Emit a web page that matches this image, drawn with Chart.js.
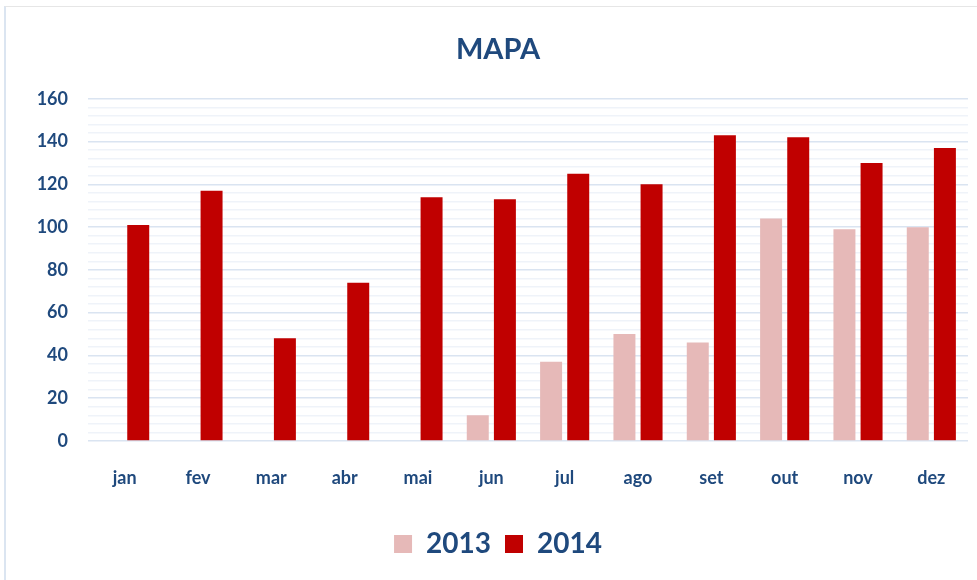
<!DOCTYPE html>
<html>
<head>
<meta charset="utf-8">
<script src="https://cdn.jsdelivr.net/npm/chart.js@4"></script>
<style>
  html, body { margin: 0; padding: 0; background: #fff; }
  #wrap { position: relative; width: 977px; height: 580px; overflow: hidden; }
  #frame {
    position: absolute; left: 4px; top: 6px; width: 990px; height: 590px;
    border-top: 1px solid #e6e6e6; border-left: 2px solid #dbe5f1;
  }
  #chart { position: absolute; left: 0; top: 0; }
</style>
</head>
<body>
<div id="wrap">
  <div id="frame"></div>
  <canvas id="chart" width="977" height="580"></canvas>
</div>
<script>
// meses e valores por ano
const months = ['jan', 'fev', 'mar', 'abr', 'mai', 'jun', 'jul', 'ago', 'set', 'out', 'nov', 'dez'];
const values2013 = [null, null, null, null, null, 12, 37, 50, 46, 104, 99, 100];
const values2014 = [101, 117, 48, 74, 114, 113, 125, 120, 143, 142, 130, 137];

// eixo vertical: rótulos a cada 20, linhas finas a cada 4
const yMax = 160;
const yLabelStep = 20;
const yMinorStep = 4;

const textColor = '#1f497d';
const fontFamily = 'Lato, "Open Sans", sans-serif';

new Chart(document.getElementById('chart'), {
    type: 'bar',
    data: {
        labels: months,
        datasets: [
            {
                label: '2013',
                data: values2013,
                backgroundColor: '#e6b9b8',
                borderWidth: 0
            },
            {
                label: '2014',
                data: values2014,
                backgroundColor: '#c00000',
                borderWidth: 0
            }
        ]
    },
    options: {
        responsive: false,
        animation: false,
        categoryPercentage: 0.74,
        barPercentage: 0.81,
        layout: {
            padding: { left: 28, right: 9, top: 0, bottom: 12 }
        },
        plugins: {
            title: {
                display: true,
                text: 'MAPA',
                color: textColor,
                font: { family: fontFamily, size: 29, weight: 'bold' },
                padding: { top: 32, bottom: 32 }
            },
            legend: {
                position: 'bottom',
                labels: {
                    color: textColor,
                    font: { family: fontFamily, size: 28, weight: 'bold' },
                    boxWidth: 18,
                    boxHeight: 18,
                    padding: 14
                }
            },
            tooltip: { enabled: false }
        },
        scales: {
            x: {
                grid: { display: false },
                border: { display: false },
                ticks: {
                    color: textColor,
                    font: { family: fontFamily, size: 18, weight: 'bold' },
                    padding: 18
                },
                afterFit: function(scale) { scale.height = 75; }
            },
            y: {
                min: 0,
                max: yMax,
                border: { display: false },
                grid: {
                    drawTicks: false,
                    lineWidth: 1.5,
                    color: function(ctx) {
                        return ctx.tick.value % yLabelStep === 0 ? '#dae4f1' : '#eff3f9';
                    }
                },
                ticks: {
                    stepSize: yMinorStep,
                    autoSkip: false,
                    color: textColor,
                    font: { family: fontFamily, size: 18, weight: 'bold' },
                    padding: 20,
                    callback: function(value) {
                        return value % yLabelStep === 0 ? value : '';
                    }
                },
                afterFit: function(scale) { scale.width = 60; }
            }
        }
    }
});
</script>
</body>
</html>
